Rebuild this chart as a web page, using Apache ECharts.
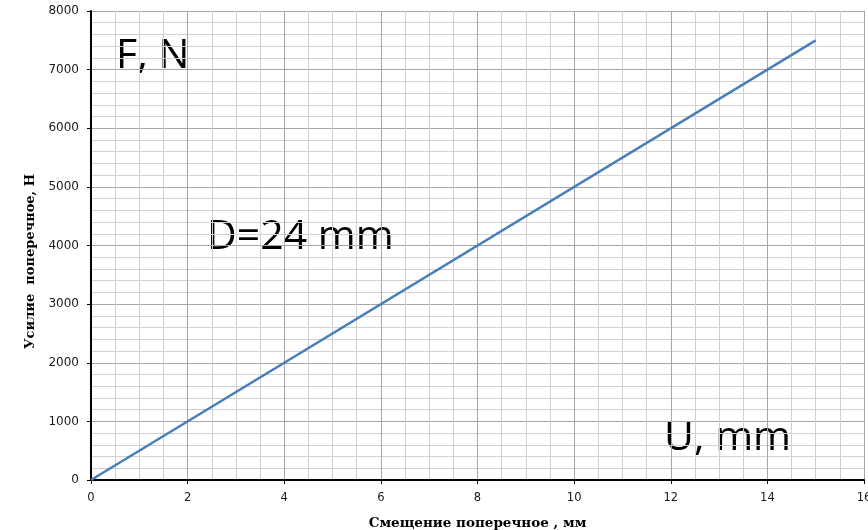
<!DOCTYPE html>
<html><head><meta charset="utf-8">
<script src="https://cdn.jsdelivr.net/npm/echarts@6/dist/echarts.min.js"></script>
<style>html,body{margin:0;padding:0;background:#fff}#c{width:868px;height:530px}</style>
</head><body><div id="c"></div>
<script>
const displacement = [0, 15];
const force = [0, 7500];
const xTicks = [0, 2, 4, 6, 8, 10, 12, 14, 16];
const yTicks = [0, 1000, 2000, 3000, 4000, 5000, 6000, 7000, 8000];
const xName = 'Смещение поперечное , мм';
const yName = 'Усилие  поперечное, Н';
const annotations = ['F, N', 'D=24 mm', 'U, mm'];

const chart = echarts.init(document.getElementById('c'));
chart.setOption({
  animation: false,
  grid: {left: 91, right: 4, top: 11, bottom: 50, outerBoundsMode: 'none', containLabel: false},
  xAxis: {
    type: 'value', min: xTicks[0], max: xTicks[xTicks.length-1], interval: 2,
    name: xName, nameLocation: 'middle', nameGap: 36,
    nameTextStyle: {fontFamily: 'DejaVu Serif', fontWeight: 'bold', fontSize: 13.5, color: '#000'},
    axisLine: {show: true, lineStyle: {color: '#000', width: 2}},
    axisTick: {show: true, length: 4, lineStyle: {color: '#000'}},
    axisLabel: {fontFamily: 'DejaVu Sans', fontSize: 11.5, color: '#1a1a1a', margin: 12,
      formatter: v => String(v)},
    splitLine: {show: true, lineStyle: {color: '#a6a6a6', width: 1}},
    minorTick: {show: false, splitNumber: 4},
    minorSplitLine: {show: true, lineStyle: {color: '#d0d0d0', width: 1}}
  },
  yAxis: {
    type: 'value', min: yTicks[0], max: yTicks[yTicks.length-1], interval: 1000,
    name: yName, nameLocation: 'middle', nameGap: 53, nameRotate: 90,
    nameTextStyle: {fontFamily: 'DejaVu Serif', fontWeight: 'bold', fontSize: 13, color: '#000',
      padding: [0, 32, 0, 0]},
    axisLine: {show: true, lineStyle: {color: '#000', width: 2}},
    axisTick: {show: true, length: 4, lineStyle: {color: '#000'}},
    axisLabel: {fontFamily: 'DejaVu Sans', fontSize: 12, color: '#1a1a1a', margin: 12,
      formatter: v => String(v)},
    splitLine: {show: true, lineStyle: {color: '#a6a6a6', width: 1}},
    minorTick: {show: false, splitNumber: 5},
    minorSplitLine: {show: true, lineStyle: {color: '#d0d0d0', width: 1}}
  },
  series: [{
    type: 'line', data: displacement.map((x, i) => [x, force[i]]),
    symbol: 'none', lineStyle: {color: '#4a7ebb', width: 2.5}
  }],
  graphic: [
    {type: 'text', left: 116, top: 36, style: {text: annotations[0], font: '41px "Open Sans"', fill: '#000', lineWidth: 0}},
    {type: 'text', left: 207, top: 217, style: {text: annotations[1], font: '41px "Open Sans"', fill: '#000', lineWidth: 0}},
    {type: 'text', left: 664, top: 418, style: {text: annotations[2], font: '41px "Open Sans"', fill: '#000', lineWidth: 0}}
  ]
});
</script></body></html>
